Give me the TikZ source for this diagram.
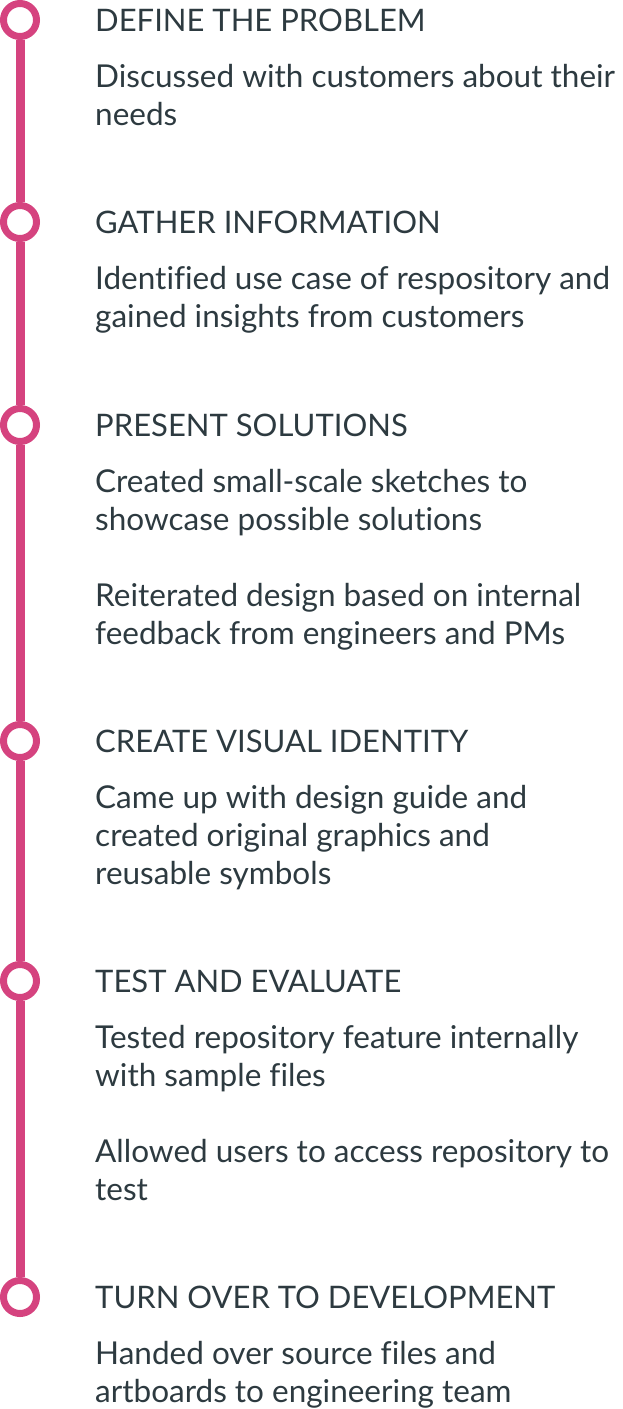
\documentclass[tikz,border=0pt]{standalone}
\usepackage{fontspec}
\setmainfont{Lato}[Ligatures=NoCommon]
\definecolor{rose}{HTML}{D5437F}
\definecolor{ink}{HTML}{2D3A40}
\begin{document}
\begin{tikzpicture}[x=1pt,y=-1pt,
  dot/.style={circle,draw=rose,line width=7pt,minimum size=33pt,inner sep=0pt,fill=white},
  rail/.style={draw=rose,line width=9pt},
  head/.style={anchor=base west,inner sep=0pt,text=ink,font=\fontsize{31}{38}\selectfont},
  % multi-line descriptions: the base anchor sits on the last line
  body/.style={anchor=base west,inner sep=0pt,text=ink,align=left,font=\fontsize{31.5}{38}\selectfont}]
\useasboundingbox (0,0) rectangle (623,1409);

% timeline markers
\coordinate (top) at (20,0);
\node[dot] (c1) at (20,20) {};
\node[dot] (c2) at (20,222) {};
\node[dot] (c3) at (20,425) {};
\node[dot] (c4) at (20,741) {};
\node[dot] (c5) at (20,981) {};
\node[dot] (c6) at (20,1297) {};

% rail segments between markers
\draw[rail] (top) -- (c1.north);
\draw[rail] (c1.south) -- (c2.north);
\draw[rail] (c2.south) -- (c3.north);
\draw[rail] (c3.south) -- (c4.north);
\draw[rail] (c4.south) -- (c5.north);
\draw[rail] (c5.south) -- (c6.north);

% step titles
\node[head] (h1) at (95,31.5) {DEFINE THE PROBLEM};
\node[head] (h2) at (95,233.5) {GATHER INFORMATION};
\node[head] (h3) at (95,436) {PRESENT SOLUTIONS};
\node[head] (h4) at (95,752) {CREATE VISUAL IDENTITY};
\node[head] (h5) at (95,992) {TEST AND EVALUATE};
\node[head] (h6) at (95,1308) {TURN OVER TO DEVELOPMENT};

% step descriptions
\node[body] (b1) at (95,125.5) {Discussed with customers about their\\needs};
\node[body] (b2) at (95,327.5) {Identified use case of respository and\\gained insights from customers};
\node[body] (b3a) at (95,530) {Created small-scale sketches to\\showcase possible solutions};
\node[body] (b3b) at (95,644) {Reiterated design based on internal\\feedback from engineers and PMs};
\node[body] (b4) at (95,884) {Came up with design guide and\\created original graphics and\\reusable symbols};
\node[body] (b5a) at (95,1086) {Tested repository feature internally\\with sample files};
\node[body] (b5b) at (95,1200) {Allowed users to access repository to\\test};
\node[body] (b6) at (95,1402) {Handed over source files and\\artboards to engineering team};
\end{tikzpicture}
\end{document}
